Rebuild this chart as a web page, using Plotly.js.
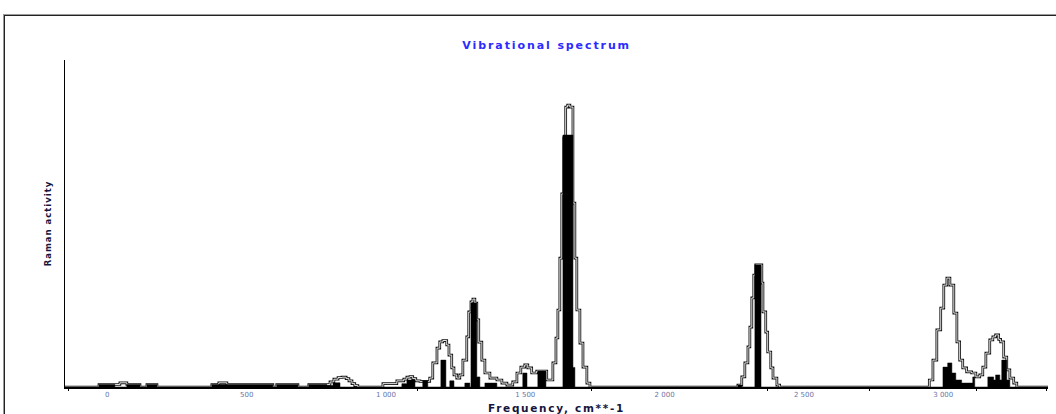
<!DOCTYPE html>
<html>
<head>
<meta charset="utf-8">
<script src="https://cdn.plot.ly/plotly-3.0.1.min.js"></script>
<style>
  html, body { margin: 0; padding: 0; background: #fff; }
  #wrap { position: relative; width: 1056px; height: 414px; overflow: hidden; }
  #chart { width: 1056px; height: 414px; }
  #frame { position: absolute; left: 3px; top: 14px; width: 1100px; height: 500px;
           border-top: 1px solid #9a9a9a; border-left: 1px solid #9a9a9a;
           box-shadow: inset 1px 1px 0 #222; pointer-events: none; }
  .gtitle { letter-spacing: 1.9px; }
  .xtitle { letter-spacing: 1.7px; }
  .ytitle { letter-spacing: 1px; }
</style>
</head>
<body>
<div id="wrap">
  <div id="chart"></div>
  <div id="frame"></div>
</div>
<script>
// Envelope (broadened spectrum), stepped: frequency (cm^-1) and Raman activity
const envFreq = [-152, -30, 45, 70, 117, 142, 178, 375, 400, 429, 594, 608, 684, 723, 788,
  799, 813, 828, 842, 857, 867, 878, 888, 899, 989, 1039, 1064, 1075, 1086, 1096, 1107, 1122, 1140,
  1157, 1168, 1183, 1193, 1204, 1218, 1226, 1236, 1244, 1254, 1265, 1276, 1290, 1297, 1305, 1312,
  1319, 1326, 1333, 1344, 1355, 1373, 1398, 1416, 1434, 1455, 1470, 1484, 1498, 1509, 1523, 1541,
  1577, 1599, 1610, 1617, 1624, 1631, 1638, 1645, 1652, 1660, 1671, 1678, 1685, 1696, 1707, 1721, 1732,
  2263, 2277, 2288, 2299, 2306, 2313, 2320, 2327, 2349, 2353, 2363, 2370, 2381, 2389, 2403, 2413,
  2950, 2963, 2977, 2991, 3002, 3013, 3024, 3038, 3049, 3059, 3070, 3084, 3102, 3117, 3131, 3142,
  3153, 3167, 3178, 3188, 3199, 3206, 3217, 3228, 3239, 3253, 3264, 3376];
const envVal = [0, 0.9, 1.5, 0.9, 0, 0.9, 0, 0.9, 1.5, 0.9, 0, 0.9, 0, 0.9, 0.9,
  1.8, 2.8, 3.4, 3.5, 3.0, 2.2, 1.2, 0.5, 0, 1.2, 2.2, 2.8, 3.5, 3.7, 3.0, 2.2, 2.0, 2.0,
  3.2, 8.6, 13.9, 16.1, 16.6, 15.0, 11.4, 6.8, 4.3, 3.2, 4.3, 9.6, 17.9, 26.8, 30.4, 31.4,
  30.0, 24.0, 16.0, 9.6, 5.0, 3.2, 2.5, 1.4, 0.7, 1.8, 5.0, 7.1, 7.9, 6.8, 5.0, 5.7,
  2.5, 8.6, 17.5, 27.5, 46, 69, 89, 100, 100.7, 100, 65.7, 46, 27.5, 15.7, 7.1, 1.4, 0,
  0.7, 3.6, 8.6, 14.3, 21.4, 31.8, 40, 43.6, 37.1, 26.8, 19.6, 12.5, 6.8, 3.2, 0.7, 0,
  2.5, 9.6, 20.4, 28.2, 36.4, 38.9, 36.4, 26.4, 16.1, 9.6, 6.8, 5.4, 5.0, 3.6, 4.3, 7.1,
  12.1, 16.8, 17.9, 18.6, 17.0, 16.1, 10.7, 6.1, 3.2, 1.4, 0, 0];

// Stick spectrum (filled black bins): bin left edge and Raman activity
const barFreq = [-152, -30, 27, 70, 117, 142, 178, 375, 594, 608, 684, 723, 788, 810, 835,
  1057, 1075, 1104, 1132, 1150, 1197, 1215, 1229, 1244, 1283, 1301, 1305, 1326, 1337, 1355, 1398,
  1491, 1506, 1545, 1574, 1635, 1671, 1678, 2263, 2277, 2324, 2346,
  2999, 3016, 3031, 3045, 3066, 3106, 3113, 3160, 3181, 3188, 3203, 3210, 3228, 3239, 3376];
const barVal = [0, 0.9, 0, 0.9, 0, 0.9, 0, 0.9, 0, 0.9, 0, 0.9, 0.5, 1.5, 0,
  1.2, 2.5, 0, 2.2, 0, 9.6, 0, 2.2, 0, 1.4, 0, 30, 3.6, 0, 1.4, 0,
  5.0, 0, 5.7, 0, 90, 7.0, 0, 0.7, 0, 43.6, 0,
  7.1, 8.6, 5.0, 2.5, 1.4, 3.6, 0, 3.6, 2.5, 4.3, 2.5, 9.6, 2.5, 0, 0];

// Axis labels
const tickVals = [0, 500, 1000, 1500, 2000, 2500, 3000];
const tickText = ['0', '500', '1 000', '1 500', '2 000', '2 500', '3 000'];
const minorTickVals = [-138, 1114, 1739, 2371, 2737, 3121, 3372];
const titleText = 'Vibrational spectrum';
const xTitle = 'Frequency, cm**-1';
const yTitle = 'Raman activity';

const xRange = [-152, 3376];
const yRange = [0, 116.8];

const traces = [
  { x: envFreq, y: envVal, type: 'scatter', mode: 'lines',
    line: { shape: 'hv', color: '#111', width: 2.7 }, hoverinfo: 'skip' },
  { x: envFreq, y: envVal, type: 'scatter', mode: 'lines',
    line: { shape: 'hv', color: '#fff', width: 0.9 }, hoverinfo: 'skip' },
  { x: barFreq, y: barVal, type: 'scatter', mode: 'lines', fill: 'tozeroy',
    fillcolor: '#000', line: { shape: 'hv', color: '#000', width: 0.5 }, hoverinfo: 'skip' },
  { x: [], y: [], type: 'scatter', xaxis: 'x2', hoverinfo: 'skip' }
];

const layout = {
  width: 1056, height: 414,
  margin: { l: 65, r: 8, t: 60, b: 27 },
  paper_bgcolor: '#fff', plot_bgcolor: '#fff',
  showlegend: false,
  font: { family: 'DejaVu Sans, Verdana, sans-serif' },
  title: { text: titleText, xref: 'paper', x: 0.49, xanchor: 'center',
           yref: 'container', y: 0.891, yanchor: 'middle',
           font: { size: 11, color: '#2b2bff', weight: 'bold', family: 'DejaVu Sans, sans-serif' } },
  xaxis: {
    range: xRange, showgrid: false, zeroline: false,
    showline: true, linecolor: '#000', linewidth: 1.5, layer: 'above traces',
    ticks: '', tickmode: 'array', tickvals: tickVals, ticktext: tickText,
    tickfont: { size: 7, color: '#6a74a8', family: 'DejaVu Sans, sans-serif' },
    title: { text: xTitle, standoff: 6,
             font: { size: 10.5, color: '#14143c', weight: 'bold', family: 'DejaVu Sans, sans-serif' } }
  },
  xaxis2: {
    range: xRange, overlaying: 'x', anchor: 'y', side: 'bottom',
    showgrid: false, zeroline: false, showline: false, showticklabels: false,
    ticks: 'outside', ticklen: 3, tickwidth: 1, tickcolor: '#000',
    tickmode: 'array', tickvals: minorTickVals
  },
  yaxis: {
    range: yRange, showgrid: false, zeroline: false,
    showline: true, linecolor: '#000', linewidth: 1.5, layer: 'above traces',
    ticks: '', showticklabels: false,
    title: { text: yTitle, standoff: 10,
             font: { size: 8.5, color: '#14143c', weight: 'bold', family: 'DejaVu Sans, sans-serif' } }
  }
};

Plotly.newPlot('chart', traces, layout, { staticPlot: true, displayModeBar: false });
</script>
</body>
</html>
